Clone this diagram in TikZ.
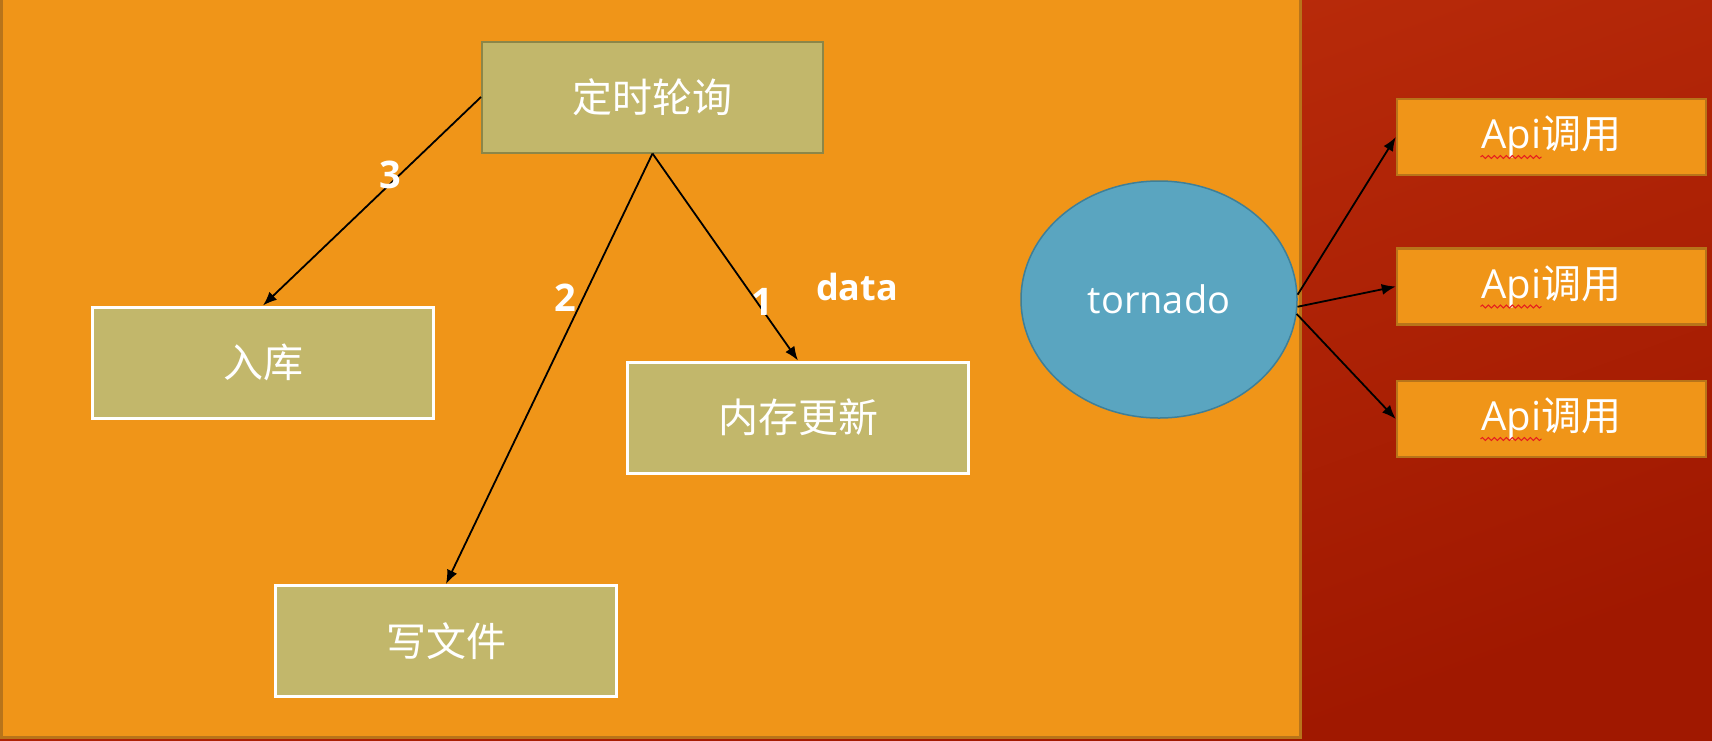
\documentclass[tikz,border=0pt]{standalone}
\usepackage{fontspec}
\setmainfont{Open Sans}
\newfontfamily\cjk{Noto Sans CJK SC}
\usetikzlibrary{positioning,shapes.geometric,arrows.meta,calc,decorations.pathmorphing}

\definecolor{panelorange}{RGB}{240,149,24}
\definecolor{paneledge}{RGB}{184,116,26}
\definecolor{bgred}{RGB}{194,50,14}
\definecolor{bgdark}{RGB}{160,24,0}
\definecolor{olive}{RGB}{194,183,107}
\definecolor{oliveedge}{RGB}{140,134,72}
\definecolor{tornadoblue}{RGB}{90,165,192}
\definecolor{tornadoedge}{RGB}{62,127,152}
\definecolor{spellred}{RGB}{230,30,30}

\tikzset{
  taskbox/.style={draw=white, line width=3pt, fill=olive, minimum width=341pt,
    minimum height=111pt, inner sep=0pt, text=white, font=\cjk\fontsize{40}{44}\selectfont},
  pollbox/.style={taskbox, draw=oliveedge, line width=2pt},
  apibox/.style={draw=paneledge, line width=2.5pt, fill=panelorange, minimum width=309pt,
    minimum height=76pt, inner sep=0pt, text=white, font=\fontsize{40}{44}\selectfont},
  server/.style={ellipse, draw=tornadoedge, line width=1.5pt, fill=tornadoblue,
    minimum width=276pt, minimum height=237pt, inner sep=0pt, text=white,
    font=\fontsize{38}{40}\selectfont},
  flow/.style={-{Latex[length=14pt,width=11pt]}, line width=1.8pt},
  steplabel/.style={text=white, font=\bfseries\fontsize{38}{40}\selectfont},
}

\begin{document}
\begin{tikzpicture}[x=1pt, y=-1pt]
    \useasboundingbox (0,0) rectangle (1712,740);
    % background and panel
    \shade[top color=bgred, bottom color=bgdark, shading angle=20] (0,0) rectangle (1712,740);
    \fill[panelorange, draw=paneledge, line width=3pt] (1.5,-5) rectangle (1300,737);

    \node[pollbox] (poll) at (652.5,97) {定时轮询};
    \node[taskbox] (store) at (263,362.5) {入库};
    \node[taskbox] (memory) at (798,417.5) {内存更新};
    \node[taskbox] (file) at (446,641) {写文件};

    \node[server] (tornado) at (1159,299.5) {tornado};
    \node[apibox] (api1) at (1551.5,137) {Api{\cjk 调用}};
    \node[apibox] (api2) at (1551.5,286.5) {Api{\cjk 调用}};
    \node[apibox] (api3) at (1551.5,419) {Api{\cjk 调用}};

    \draw[flow] (poll.west) -- (store.north);
    \draw[flow] (poll.south) -- (file.north);
    \draw[flow] (poll.south) -- (memory.north);
    \draw[flow] (tornado.2) -- (api1.west);
    \draw[flow] (tornado.-3) -- (api2.west);
    \draw[flow] (tornado.-6) -- (api3.west);

    \node[steplabel] (n3) at (390,175) {3};
    \node[steplabel] (n2) at (565,298) {2};
    \node[steplabel] (n1) at (762,302) {1};
    \node[steplabel, font=\bfseries\fontsize{36}{40}\selectfont] (data) at (857,287) {data};

    % spell-check marks under Api
    \foreach \api in {api1,api2,api3}
        \draw[spellred, line width=1pt, decorate, decoration={snake, amplitude=1.5pt, segment length=6pt}]
            ($(\api.center)+(-71,20)$) -- ($(\api.center)+(-10,20)$);
\end{tikzpicture}
\end{document}
